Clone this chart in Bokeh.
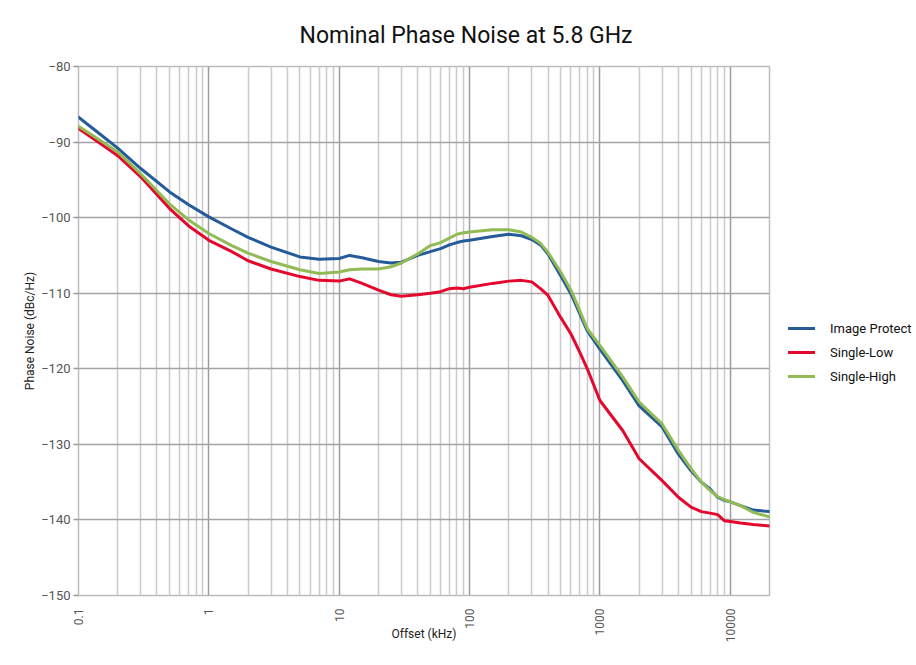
from bokeh.plotting import figure
from bokeh.models import (Range1d, FixedTicker, Legend, LegendItem, Title)
from bokeh.embed import file_html
from bokeh.resources import INLINE
import math

# ---------------- data ----------------
title_text = "Nominal Phase Noise at 5.8 GHz"
x_label = "Offset (kHz)"
y_label = "Phase Noise (dBc/Hz)"

offset_khz = [0.1, 0.15, 0.2, 0.3, 0.5, 0.7, 1, 1.5, 2, 3, 5, 7, 10, 12, 15, 20, 25, 30,
              40, 50, 60, 70, 80, 90, 100, 150, 200, 250, 300, 350, 400, 500, 600, 700,
              800, 1000, 1500, 2000, 3000, 4000, 5000, 6000, 7000, 8000, 9000, 10000,
              12000, 15000, 20000]

image_protect = [-86.7, -89.1, -90.8, -93.5, -96.6, -98.3, -99.9, -101.5, -102.6, -103.9,
                 -105.2, -105.5, -105.4, -105.0, -105.3, -105.8, -106.0, -105.9,
                 -105.0, -104.5, -104.1, -103.6, -103.3, -103.1, -103.0, -102.5, -102.2,
                 -102.4, -102.9, -103.6, -104.8, -107.7, -110.1, -112.7,
                 -115.0, -117.4, -121.6, -124.9, -127.7, -131.3, -133.5, -135.0, -135.9,
                 -137.0, -137.4, -137.6, -138.1, -138.7, -138.9]

single_low = [-88.2, -90.3, -91.8, -94.6, -98.8, -101.1, -103.0, -104.5, -105.7, -106.8,
              -107.8, -108.3, -108.4, -108.1, -108.7, -109.6, -110.2, -110.4,
              -110.2, -110.0, -109.8, -109.4, -109.3, -109.4, -109.2, -108.7, -108.4,
              -108.3, -108.5, -109.4, -110.3, -113.2, -115.4, -117.8,
              -120.0, -124.2, -128.2, -131.9, -134.8, -137.0, -138.3, -138.9, -139.1,
              -139.3, -140.1, -140.2, -140.4, -140.6, -140.8]

single_high = [-87.9, -89.9, -91.3, -94.2, -98.2, -100.3, -102.1, -103.7, -104.7, -105.8,
               -106.9, -107.4, -107.2, -106.9, -106.8, -106.8, -106.5, -106.0,
               -104.8, -103.7, -103.3, -102.7, -102.2, -102.0, -101.9, -101.6, -101.6,
               -101.9, -102.6, -103.4, -104.6, -107.2, -109.6, -112.3,
               -114.7, -116.9, -121.1, -124.4, -127.3, -130.8, -133.2, -135.0, -136.1,
               -136.9, -137.3, -137.6, -138.1, -139.0, -139.6]

series_names = ["Image Protect", "Single-Low", "Single-High"]
series_colors = ["#245b98", "#e5082e", "#92bb55"]

x_major_ticks = [0.1, 1, 10, 100, 1000, 10000]
x_tick_labels = ["0.1", "1", "10", "100", "1000", "10000"]
x_minor_ticks = [m * d for d in [0.1, 1, 10, 100, 1000, 10000] for m in range(2, 10)
                 if m * d <= 20000]
y_ticks = [-150, -140, -130, -120, -110, -100, -90, -80]

FONT = "Roboto"

p = figure(frame_width=691, frame_height=529, x_axis_type="log",
           x_range=Range1d(0.1, 20000), y_range=Range1d(-150, -80),
           output_backend="svg", toolbar_location=None,
           min_border_left=78, min_border_right=125, min_border_top=66,
           min_border_bottom=50)

p.title = Title(text=title_text, align="left", offset=221, text_font=FONT,
                text_font_size="23px", text_font_style="normal", text_color="#111111",
                standoff=36)

p.background_fill_color = "white"
p.border_fill_color = "white"
p.outline_line_color = "#bdbdbd"
p.outline_line_width = 1.5

# x axis
p.xaxis.ticker = FixedTicker(ticks=x_major_ticks, minor_ticks=x_minor_ticks)
p.xaxis.major_label_overrides = {t: l for t, l in zip(x_major_ticks, x_tick_labels)}
p.xaxis.major_label_orientation = math.pi / 2
p.xaxis.axis_line_color = None
p.xaxis.major_tick_line_color = None
p.xaxis.minor_tick_line_color = None
p.xaxis.major_label_standoff = 7
p.xaxis.major_label_text_font = FONT
p.xaxis.major_label_text_font_size = "12px"
p.xaxis.major_label_text_color = "#555555"
p.xaxis.axis_label = x_label
p.xaxis.axis_label_text_font = FONT
p.xaxis.axis_label_text_font_size = "12px"
p.xaxis.axis_label_text_font_style = "normal"
p.xaxis.axis_label_text_color = "#222222"
p.xaxis.axis_label_standoff = -18

# y axis
p.yaxis.ticker = FixedTicker(ticks=y_ticks)
p.yaxis.axis_line_color = None
p.yaxis.major_tick_in = 0
p.yaxis.major_tick_out = 5
p.yaxis.major_tick_line_color = "#999999"
p.yaxis.major_tick_line_width = 1.5
p.yaxis.minor_tick_line_color = None
p.yaxis.major_label_standoff = 3
p.yaxis.major_label_text_font = FONT
p.yaxis.major_label_text_font_size = "13px"
p.yaxis.major_label_text_color = "#555555"
p.yaxis.axis_label = y_label
p.yaxis.axis_label_text_font = FONT
p.yaxis.axis_label_text_font_size = "12px"
p.yaxis.axis_label_text_font_style = "normal"
p.yaxis.axis_label_text_color = "#222222"
p.yaxis.axis_label_standoff = 1

# grids
p.xgrid.grid_line_color = "#9c9c9c"
p.xgrid.grid_line_width = 1.5
p.xgrid.minor_grid_line_color = "#cbcbcb"
p.xgrid.minor_grid_line_width = 1.5
p.ygrid.grid_line_color = "#a3a3a3"
p.ygrid.grid_line_width = 1.5

renderers = []
for vals, col in zip([image_protect, single_low, single_high], series_colors):
    r = p.line(offset_khz, vals, line_color=col, line_width=3, line_join="round",
               line_cap="round")
    renderers.append(r)

legend = Legend(items=[LegendItem(label=n, renderers=[r]) for n, r in zip(series_names, renderers)],
                location=(19, 209), glyph_width=27, glyph_height=20, label_height=20,
                label_standoff=15, spacing=4, padding=0, margin=0,
                border_line_color=None, background_fill_alpha=0,
                label_text_font=FONT, label_text_font_size="13px", label_text_color="#111111")
p.add_layout(legend, "right")

open("out.html", "w").write(file_html(p, INLINE))
